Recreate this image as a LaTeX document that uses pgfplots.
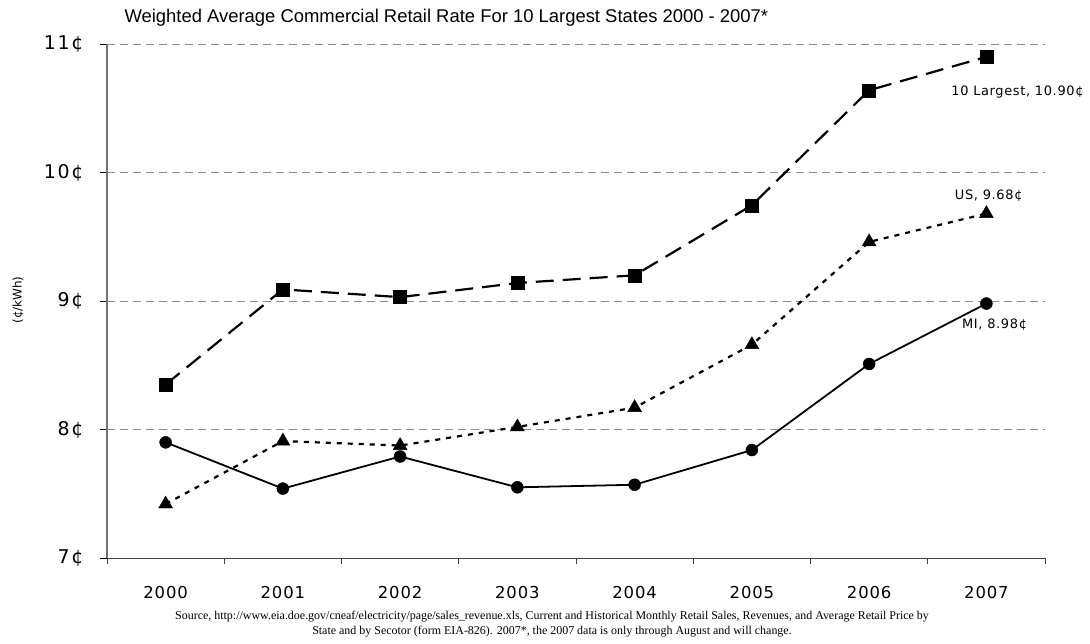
\documentclass[border=0pt]{standalone}
\usepackage{fontspec}
\setmainfont{DejaVu Sans}
\newfontfamily\titlefont{Liberation Sans}
\newfontfamily\srcfont{Liberation Serif}
\newfontfamily\ytfont{DejaVu Sans}[LetterSpace=9]
\newfontfamily\xtfont{DejaVu Sans}[LetterSpace=5]
\newfontfamily\lbfont{DejaVu Sans}[LetterSpace=5]
\usepackage{pgfplots}
\pgfplotsset{compat=1.18}
\begin{document}
\begin{tikzpicture}[x=1bp,y=1bp]
\useasboundingbox (0,0) rectangle (1090,644);
\begin{axis}[
  at={(107bp,86bp)}, anchor=south west,
  scale only axis, width=938bp, height=514bp,
  xmin=-0.5, xmax=7.5, ymin=7, ymax=11,
  axis x line*=bottom, axis y line*=left,
  x axis line style={draw=black!75, line width=0.9pt, -},
  y axis line style={draw=black!55, line width=1.2pt, -},
  xtick={0,...,7},
  xticklabels={2000,2001,2002,2003,2004,2005,2006,2007},
  major x tick style={draw=none},
  minor xtick={-0.5,0.5,1.5,2.5,3.5,4.5,5.5,6.5,7.5},
  minor x tick style={draw=black!75, line width=0.8pt},
  minor tick length=6bp,
  ytick={7,8,9,10,11},
  yticklabels={7¢,8¢,9¢,10¢,11¢},
  major tick length=7bp,
  tick align=outside,
  y tick style={draw=black, line width=0.8pt},
  ymajorgrids,
  grid style={dashed, draw=black!45, line width=0.8pt, dash pattern=on 8bp off 5bp},
  xticklabel style={font=\xtfont\fontsize{16.5}{20}\selectfont, yshift=-18bp},
  yticklabel style={font=\ytfont\fontsize{19}{22}\selectfont, xshift=-13bp},
  clip=false,
]
\addplot[black, line width=2.2pt, dash pattern=on 18bp off 9bp, mark=square*, mark size=6.5bp, mark options={solid, line width=0.4pt}]
 coordinates {(0,8.35) (1,9.09) (2,9.03) (3,9.14) (4,9.20) (5,9.745) (6,10.64) (7,10.90)};
\addplot[black, line width=2.2pt, dash pattern=on 5bp off 6bp, mark=triangle*, mark size=8bp, mark options={solid, line width=0.4pt}]
 coordinates {(0,7.42) (1,7.91) (2,7.875) (3,8.02) (4,8.17) (5,8.66) (6,9.46) (7,9.68)};
\addplot[black, line width=1.8pt, mark=*, mark size=6bp, mark options={solid, line width=0.4pt}]
 coordinates {(0,7.90) (1,7.54) (2,7.79) (3,7.55) (4,7.57) (5,7.84) (6,8.51) (7,8.98)};
\node[font=\lbfont\fontsize{13}{15}\selectfont] at (axis cs:7.265,10.629) {10 Largest, 10.90¢};
\node[font=\lbfont\fontsize{13}{15}\selectfont] at (axis cs:7.02,9.817) {US, 9.68¢};
\node[font=\lbfont\fontsize{13}{15}\selectfont] at (axis cs:7.07,8.813) {MI, 8.98¢};
\end{axis}
\node[font=\titlefont\fontsize{18.5}{22}\selectfont, anchor=west] at (121,626) {Weighted Average Commercial Retail Rate For 10 Largest States 2000 - 2007*};
\node[font=\fontsize{12}{14}\selectfont, rotate=90] at (18,344) {(¢/kWh)};
\node[font=\srcfont\fontsize{12}{15}\selectfont, align=center] at (552,20) {Source, http://www.eia.doe.gov/cneaf/electricity/page/sales\_revenue.xls, Current and Historical Monthly Retail Sales, Revenues, and Average Retail Price by\\State and by Secotor (form EIA-826). 2007*, the 2007 data is only through August and will change.};
\end{tikzpicture}
\end{document}
